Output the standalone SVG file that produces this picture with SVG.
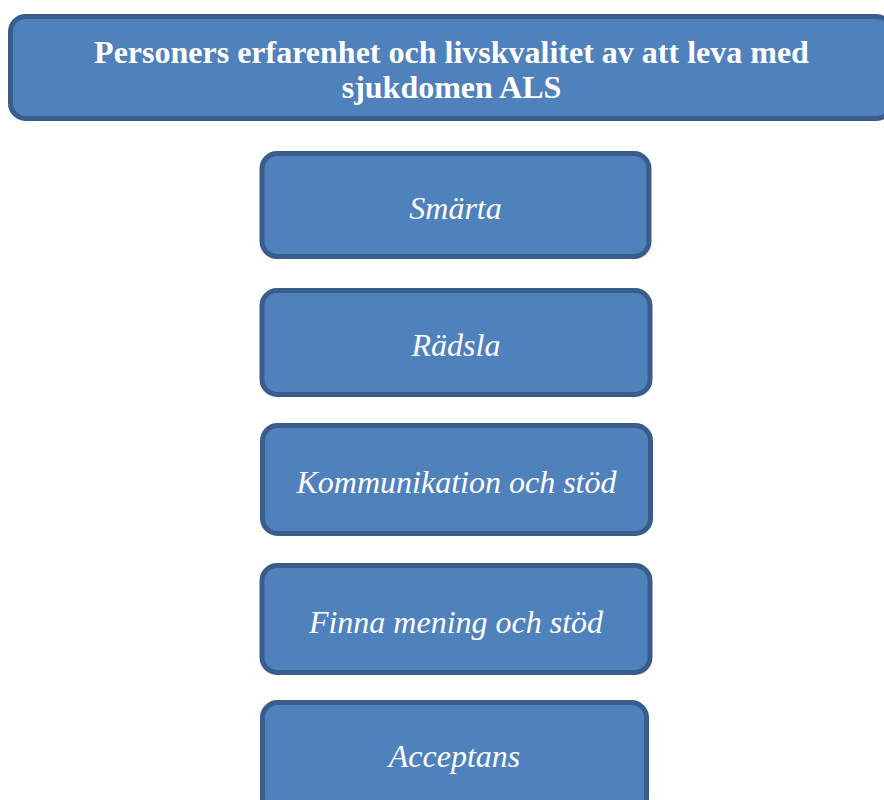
<svg xmlns="http://www.w3.org/2000/svg" width="884" height="800" viewBox="0 0 884 800">
<style>
.box{fill:#4F81BD;stroke:#385D8A;stroke-width:5}
.title{font-family:"Liberation Serif","Times New Roman",serif;font-weight:bold;font-size:32px;fill:#ffffff;text-anchor:middle}
.lbl{font-family:"Liberation Serif","Times New Roman",serif;font-style:italic;font-size:32px;fill:#ffffff;text-anchor:middle}
</style>
<rect width="884" height="800" fill="#ffffff"/>
<g id="connectors"></g>
<g id="title">
<rect class="box" x="10.5" y="16.5" width="881" height="102" rx="15"/>
<text class="title" x="451.5" y="63">Personers erfarenhet och livskvalitet av att leva med</text>
<text class="title" x="451.5" y="98">sjukdomen ALS</text>
</g>
<g id="smarta">
<rect class="box" x="262" y="153.5" width="387" height="103" rx="15"/>
<text class="lbl" x="455.5" y="218.5">Smärta</text>
</g>
<g id="radsla">
<rect class="box" x="262" y="290.5" width="388" height="104" rx="15"/>
<text class="lbl" x="456" y="356">Rädsla</text>
</g>
<g id="kommunikation">
<rect class="box" x="262.5" y="425.5" width="388" height="108" rx="15"/>
<text class="lbl" x="456.5" y="493">Kommunikation och stöd</text>
</g>
<g id="finna">
<rect class="box" x="262" y="565.5" width="388" height="107" rx="15"/>
<text class="lbl" x="456" y="633">Finna mening och stöd</text>
</g>
<g id="acceptans">
<rect class="box" x="262.5" y="702.5" width="384" height="110" rx="15"/>
<text class="lbl" x="454.5" y="767">Acceptans</text>
</g>
</svg>
